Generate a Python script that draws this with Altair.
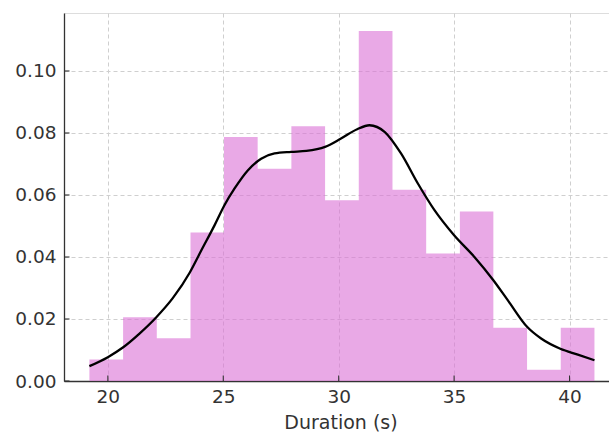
import altair as alt
import pandas as pd

# Histogram (density) bins
bin_start = [19.20, 20.66, 22.12, 23.58, 25.03, 26.49, 27.95, 29.41, 30.87, 32.33, 33.79, 35.25, 36.70, 38.16, 39.62]
bin_end = [20.66, 22.12, 23.58, 25.03, 26.49, 27.95, 29.41, 30.87, 32.33, 33.79, 35.25, 36.70, 38.16, 39.62, 41.08]
density = [0.0069, 0.0206, 0.0138, 0.0479, 0.0787, 0.0685, 0.0822, 0.0583, 0.1129, 0.0617, 0.0411, 0.0547, 0.0172, 0.0036, 0.0172]

# KDE curve
kde_x = [19.20, 20.00, 20.65, 21.37, 22.09, 22.82, 23.55, 24.04, 24.62, 25.05, 25.49, 26.07, 26.64, 27.22, 27.94,
         28.60, 29.41, 30.10, 30.80, 31.33, 32.00, 32.70, 33.43, 34.15, 35.00, 35.88, 36.70, 37.33, 38.17, 38.77,
         39.60, 40.36, 41.08]
kde_y = [0.0048, 0.0077, 0.0108, 0.0153, 0.0205, 0.0268, 0.0350, 0.0420, 0.0502, 0.0567, 0.0621, 0.0680, 0.0717,
         0.0734, 0.0739, 0.0742, 0.0755, 0.0782, 0.0812, 0.0825, 0.0803, 0.0734, 0.0637, 0.0551, 0.0470, 0.0400,
         0.0325, 0.0260, 0.0174, 0.0137, 0.0104, 0.0085, 0.0067]

x_ticks = [20, 25, 30, 35, 40]
y_ticks = [0.00, 0.02, 0.04, 0.06, 0.08, 0.10]

W, H = 545, 368
FONT = "DejaVu Sans"
DARK = "#333333"

# step outline: each bin start with its height, then the final right edge
hist = pd.DataFrame({"x": bin_start + [bin_end[-1]], "y": density + [density[-1]]})
kde = pd.DataFrame({"x": kde_x, "y": kde_y})
xt = pd.DataFrame({"x": x_ticks})
yt = pd.DataFrame({"y": y_ticks})

xscale = alt.Scale(domain=[18.1, 41.71], nice=False, zero=False)
yscale = alt.Scale(domain=[0, 0.1187], nice=False)

xaxis = alt.Axis(values=x_ticks, format="d", title="Duration (s)", grid=True,
                 gridDash=[4, 3], gridColor="#cfcfcf", gridWidth=1,
                 ticks=False, domainColor=DARK, domainWidth=1.3,
                 labelFont=FONT, labelFontSize=18.5, labelColor=DARK, labelPadding=6,
                 titleFont=FONT, titleFontSize=19, titleFontWeight="normal", titleColor=DARK,
                 titleX=276.5, titleY=47.5, titleAlign="center", titleBaseline="alphabetic")
yaxis = alt.Axis(values=y_ticks, format=".2f", title=None, grid=True,
                 gridDash=[4, 3], gridColor="#cfcfcf", gridWidth=1,
                 ticks=False, domainColor=DARK, domainWidth=1.3,
                 labelFont=FONT, labelFontSize=18.5, labelColor=DARK, labelPadding=8)

bars = alt.Chart(hist).mark_area(color="orchid", opacity=0.6, interpolate="step-after").encode(
    x=alt.X("x:Q", scale=xscale, axis=xaxis),
    y=alt.Y("y:Q", scale=yscale, axis=yaxis),
    y2=alt.datum(0),
)

line = alt.Chart(kde).mark_line(color="black", strokeWidth=2.3, interpolate="monotone").encode(
    x=alt.X("x:Q", scale=xscale, axis=xaxis),
    y=alt.Y("y:Q", scale=yscale, axis=yaxis),
)

xtick_marks = alt.Chart(xt).mark_rule(color=DARK, strokeWidth=1.1).encode(
    x=alt.X("x:Q", scale=xscale, axis=xaxis),
    y=alt.value(H),
    y2=alt.value(H - 5.5),
)

ytick_marks = alt.Chart(yt).mark_rule(color=DARK, strokeWidth=1.1).encode(
    y=alt.Y("y:Q", scale=yscale, axis=yaxis),
    x=alt.value(0),
    x2=alt.value(5.5),
)

chart = alt.layer(bars, line, xtick_marks, ytick_marks).properties(
    width=W, height=H,
    autosize=alt.AutoSizeParams(type="none"),
    padding={"left": 64, "top": 13, "right": 0, "bottom": 53},
).configure_view(stroke=None).configure(background="white")

chart.save("out.html", embed_options={"renderer": "svg", "actions": False})
